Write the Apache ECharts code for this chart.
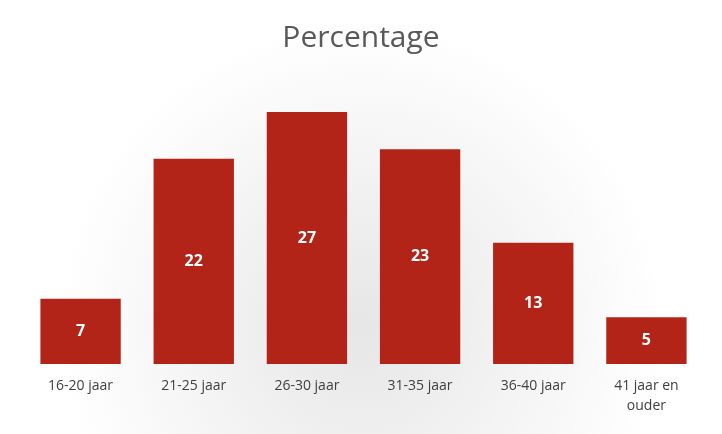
<!DOCTYPE html>
<html><head><meta charset="utf-8">
<script src="https://cdn.jsdelivr.net/npm/echarts@6/dist/echarts.min.js"></script>
<style>html,body{margin:0;padding:0;background:#fff}#c{width:722px;height:434px}</style>
</head><body><div id="c"></div>
<script>
const categories = ['16-20 jaar','21-25 jaar','26-30 jaar','31-35 jaar','36-40 jaar','41 jaar en\nouder'];
const values = [7,22,27,23,13,5];
const chart = echarts.init(document.getElementById('c'));
chart.setOption({
  backgroundColor: {type:'radial', x:0.5, y:0.75, r:0.7, colorStops:[{offset:0,color:'#e6e6e6'},{offset:1,color:'#ffffff'}]},
  title:{text:'Percentage', left:'center', top:18, textStyle:{fontFamily:'Open Sans', fontSize:30, fontWeight:'normal', color:'#595959'}},
  grid:{left:24, right:19, top:84, bottom:70},
  xAxis:{type:'category', data:categories, axisLine:{show:false}, axisTick:{show:false},
    axisLabel:{fontFamily:'Open Sans', fontSize:14, color:'#404040', margin:12, lineHeight:20}},
  yAxis:{type:'value', min:0, max:30, show:false},
  series:[{type:'bar', data:values, barCategoryGap:'29%', itemStyle:{color:'#b22418'},
    label:{show:true, position:'inside', color:'#fff', fontFamily:'Open Sans', fontWeight:'bold', fontSize:16}}]
});
</script></body></html>
